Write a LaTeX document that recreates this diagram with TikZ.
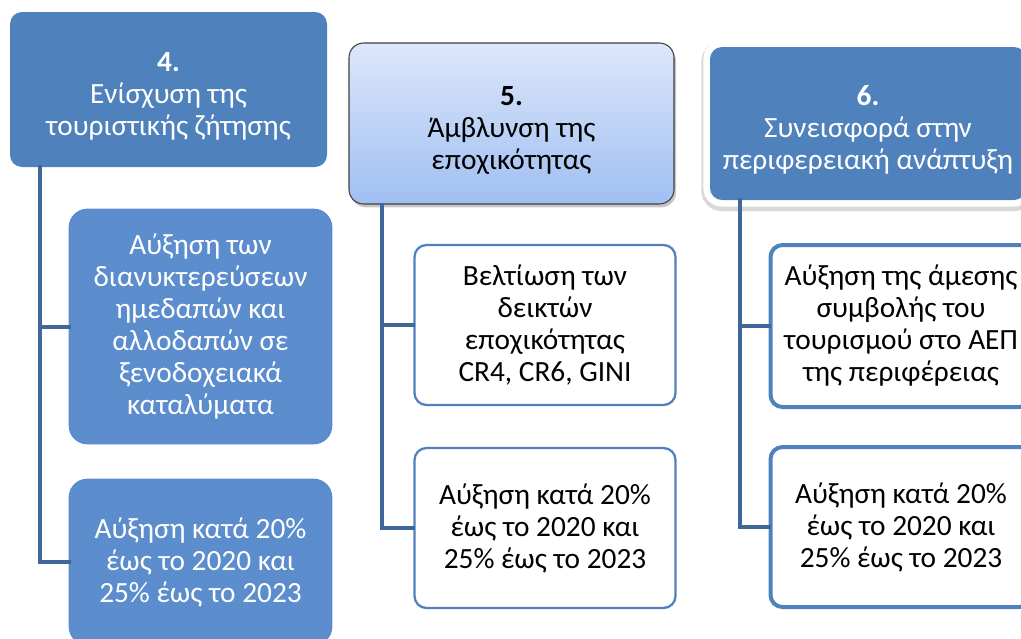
\documentclass[tikz,border=0pt]{standalone}
\usepackage{fontspec}
\setmainfont{Carlito}
\usetikzlibrary{positioning,shadows,patterns}
\definecolor{headblue}{RGB}{79,129,189}
\definecolor{linkblue}{RGB}{65,103,154}
\definecolor{edgeblue}{RGB}{88,139,205}
\definecolor{gradtop}{RGB}{221,231,250}
\definecolor{gradbot}{RGB}{160,191,242}
\newcommand{\goalnum}[1]{\rule{0pt}{25pt}\textbf{#1.}}
\tikzset{
  goal/.style={rounded corners=9pt, align=center, inner sep=2pt},
  goalblue/.style={goal, fill=headblue, text=white},
  goalpale/.style={goal, rounded corners=11pt, top color=gradtop, bottom color=gradbot, draw=black!75, line width=0.8pt,
    drop shadow={shadow xshift=1.5pt, shadow yshift=-2.5pt, opacity=0.45}},
  goalframe/.style={goalblue,
    preaction={draw=black, opacity=0.15, line width=13pt, transform canvas={yshift=-2pt}},
    preaction={draw=white, line width=10pt}},
  target/.style={rounded corners=9pt, align=center, minimum width=195.75pt, fill=white, draw=headblue, line width=1.7pt},
  targetdot/.style={target, rounded corners=13pt, fill=edgeblue, draw=edgeblue, line width=2pt, text=white,
    postaction={pattern=crosshatch dots, pattern color=headblue!75!white}},
  targetbold/.style={target, line width=3pt},
  link/.style={draw=linkblue, line width=3pt, line cap=rect},
}
\begin{document}
\begin{tikzpicture}[x=0.75pt, y=-0.75pt, font=\fontsize{22}{24}\selectfont]
  \useasboundingbox (0,0) rectangle (1021,639);
  % column 4
  \node[goalblue, minimum width=237.75pt, minimum height=116.25pt] (g4) at (168.5,89.5)
    {\goalnum{4}\\Ενίσχυση της\\τουριστικής ζήτησης};
  \node[targetdot, minimum height=174.75pt] (t4a) at (200.5,326.5)
    {Αύξηση των\\διανυκτερεύσεων\\ημεδαπών και\\αλλοδαπών σε\\ξενοδοχειακά\\καταλύματα};
  \node[targetdot, minimum height=123pt] (t4b) at (200.5,562)
    {Αύξηση κατά 20\%\\έως το 2020 και\\25\% έως το 2023};
  % column 5
  \node[goalpale, minimum width=243.75pt, minimum height=120.75pt] (g5) at (511.5,123.5)
    {\goalnum{5}\\Άμβλυνση της\\εποχικότητας};
  \node[target, minimum height=120pt] (t5a) at (545,325)
    {Βελτίωση των\\δεικτών\\εποχικότητας\\CR4, CR6, GINI};
  \node[target, minimum height=120pt] (t5b) at (545,528)
    {Αύξηση κατά 20\%\\έως το 2020 και\\25\% έως το 2023};
  % column 6
  \node[goalframe, minimum width=237pt, minimum height=114.75pt] (g6) at (868,123.5)
    {\goalnum{6}\\Συνεισφορά στην\\περιφερειακή ανάπτυξη};
  \node[targetbold, minimum height=121.5pt] (t6a) at (901,326)
    {Αύξηση της άμεσης\\συμβολής του\\τουρισμού στο ΑΕΠ\\της περιφέρειας};
  \node[targetbold, minimum height=120pt] (t6b) at (901,527)
    {Αύξηση κατά 20\%\\έως το 2020 και\\25\% έως το 2023};
  % connectors
  \coordinate (l4) at ([xshift=22.5pt]g4.south west);
  \coordinate (l5) at ([xshift=25.5pt]g5.south west);
  \coordinate (l6) at ([xshift=22.5pt]g6.south west);
  \draw[link] (l4) |- (t4a.west);
  \draw[link] (l4) |- (t4b.west);
  \draw[link] (l5) |- (t5a.west);
  \draw[link] (l5) |- (t5b.west);
  \draw[link] (l6) |- (t6a.west);
  \draw[link] (l6) |- (t6b.west);
\end{tikzpicture}
\end{document}
